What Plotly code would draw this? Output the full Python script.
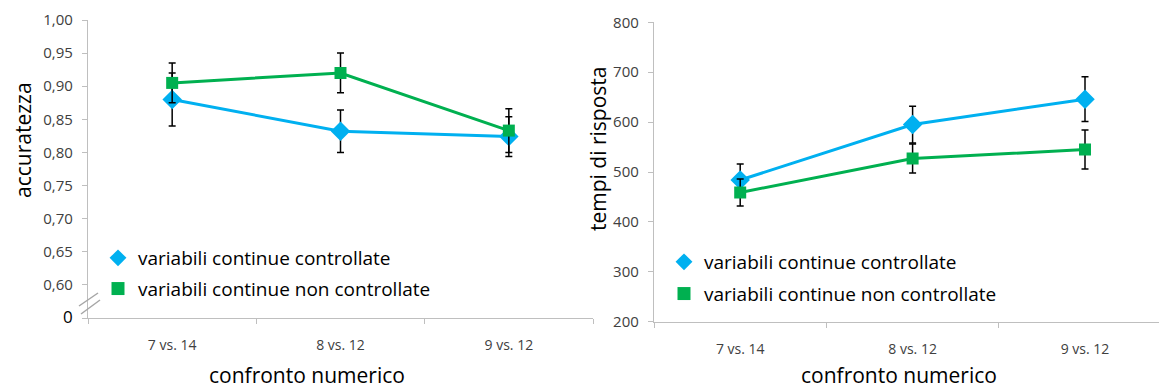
import plotly.graph_objects as go

# ---- data ----
categories = ["7 vs. 14", "8 vs. 12", "9 vs. 12"]
series_names = ["variabili continue controllate", "variabili continue non controllate"]

acc_ctrl = [0.880, 0.832, 0.824]
acc_ctrl_err = [0.040, 0.032, 0.030]
acc_nonctrl = [0.905, 0.920, 0.833]
acc_nonctrl_err = [0.030, 0.030, 0.033]

rt_ctrl = [484, 595, 646]
rt_ctrl_err = [32, 37, 45]
rt_nonctrl = [459, 527, 545]
rt_nonctrl_err = [27, 29, 39]

acc_tickvals = [0.55, 0.60, 0.65, 0.70, 0.75, 0.80, 0.85, 0.90, 0.95, 1.00]
acc_ticktext = ["0", "0,60", "0,65", "0,70", "0,75", "0,80", "0,85", "0,90", "0,95", "1,00"]
rt_tickvals = [200, 300, 400, 500, 600, 700, 800]

# ---- styles ----
W, H = 1167, 389
OFF = 8  # page body margin compensation
BLUE = "#00B0F0"
GREEN = "#00B050"
FONT = "Open Sans"
AXC = "#BFBFBF"
TXT = "#404040"

def px_x(p):
    return (p - OFF) / W

def px_y(p):
    return (H - (p - OFF)) / H

fig = go.Figure()

def add_series(xa, ya, y, err, color, symbol, size):
    fig.add_trace(go.Scatter(
        x=categories, y=y, xaxis=xa, yaxis=ya, mode="lines+markers",
        line=dict(color=color, width=3),
        marker=dict(color=color, symbol=symbol, size=size),
        error_y=dict(type="data", array=err, visible=True, color="black",
                     thickness=1.5, width=3.5),
        showlegend=False, hoverinfo="skip"))

add_series("x", "y", acc_ctrl, acc_ctrl_err, BLUE, "diamond", 15)
add_series("x", "y", acc_nonctrl, acc_nonctrl_err, GREEN, "square", 12)
add_series("x2", "y2", rt_ctrl, rt_ctrl_err, BLUE, "diamond", 15)
add_series("x2", "y2", rt_nonctrl, rt_nonctrl_err, GREEN, "square", 12)

# legend-only entries (marker only, as in the reference)
for leg, xa, ya in [("legend", "x", "y"), ("legend2", "x2", "y2")]:
    for name, color, symbol, grp in [(series_names[0], BLUE, "diamond", "a"),
                                     (series_names[1], GREEN, "square", "b")]:
        fig.add_trace(go.Scatter(
            x=[None], y=[None], xaxis=xa, yaxis=ya, mode="markers", name=name,
            marker=dict(color=color, symbol=symbol, size=13),
            legend=leg, legendgroup=leg + grp, showlegend=True))

acc_ticktext_fmt = [
    "<span style='font-size:17px;color:black'>%s</span>" % t if i == 0 else t
    for i, t in enumerate(acc_ticktext)
]

common_x = dict(type="category", showline=True, linecolor=AXC, linewidth=1.3,
                ticks="outside", tickson="boundaries", ticklen=5, tickcolor=AXC,
                showgrid=False, zeroline=False, automargin=False,
                ticklabelstandoff=14,
                tickfont=dict(family=FONT, size=14, color=TXT), fixedrange=True)
common_y = dict(showline=True, linecolor=AXC, linewidth=1.3, ticks="outside",
                ticklen=5, tickcolor=AXC, showgrid=False, zeroline=False,
                automargin=False, ticklabelstandoff=6,
                tickfont=dict(family=FONT, size=15, color=TXT), fixedrange=True)

fig.update_layout(
    width=W, height=H, margin=dict(l=0, r=0, t=0, b=0, autoexpand=False),
    paper_bgcolor="white", plot_bgcolor="white",
    font=dict(family=FONT, color="black"),
    xaxis=dict(common_x, domain=[px_x(88), px_x(593)], range=[-0.5, 2.5], anchor="y"),
    yaxis=dict(common_y, domain=[px_y(318), px_y(20)], range=[0.55, 1.0],
               tickvals=acc_tickvals, ticktext=acc_ticktext_fmt, anchor="x"),
    xaxis2=dict(common_x, domain=[px_x(654), 1.0],
                range=[-0.5, -0.5 + (W + OFF - 654) / 172.4], anchor="y2"),
    yaxis2=dict(common_y, domain=[px_y(321.7), px_y(22.3)], range=[200, 800],
                tickvals=rt_tickvals, anchor="x2"),
    legend=dict(x=px_x(98), y=px_y(239), xanchor="left", yanchor="top",
                bgcolor="rgba(0,0,0,0)", tracegroupgap=3,
                font=dict(family=FONT, size=19, color="black")),
    legend2=dict(x=px_x(664), y=px_y(243), xanchor="left", yanchor="top",
                 bgcolor="rgba(0,0,0,0)", tracegroupgap=4,
                 font=dict(family=FONT, size=19, color="black")),
    showlegend=True,
)

# axis titles
ann_font = dict(family=FONT, size=21, color="black")
for text, cx, cy, ang in [("accuratezza", 23, 140, -90),
                          ("tempi di risposta", 598, 149, -90),
                          ("confronto numerico", 307, 375, 0),
                          ("confronto numerico", 899, 375, 0)]:
    fig.add_annotation(text=text, x=px_x(cx), y=px_y(cy), xref="paper", yref="paper",
                       xanchor="center", yanchor="middle", textangle=ang,
                       showarrow=False, font=ann_font)

# axis break marks on the accuracy axis
for (x0, y0, x1, y1) in [(79, 306, 98, 293), (81, 314, 100, 300)]:
    fig.add_shape(type="line", xref="paper", yref="paper",
                  x0=px_x(x0), y0=px_y(y0), x1=px_x(x1), y1=px_y(y1),
                  line=dict(color="#A6A6A6", width=1.5))

fig.write_html("out.html")
